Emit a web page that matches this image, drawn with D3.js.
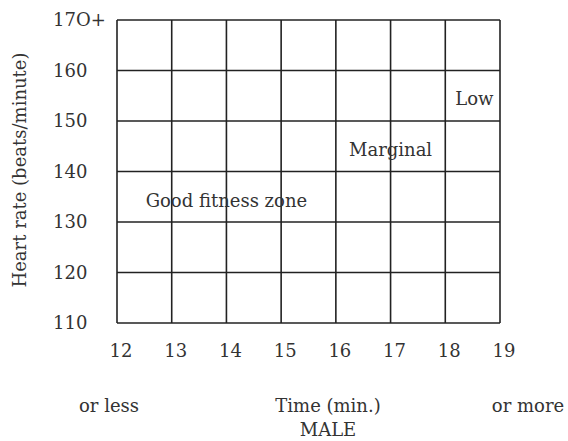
<!DOCTYPE html>
<html><head><meta charset="utf-8">
<script src="https://cdn.jsdelivr.net/npm/d3@7"></script>
<style>
body{margin:0;background:#fff;}
text{font-family:"DejaVu Serif",serif;fill:#333;}
</style></head>
<body><svg id="c" width="568" height="441"></svg>
<script>
const timeTicks = [12,13,14,15,16,17,18,19];
const timeLabels = ["12","13","14","15","16","17","18","19"];
const rateTicks = [110,120,130,140,150,160,170];
const rateLabels = ["110","120","130","140","150","160","17O+"];
const zoneNames = ["Good fitness zone","Marginal","Low"];
const zoneTime = [14.0, 17.0, 18.53];
const zoneRate = [134.2, 144.3, 154.3];

const svg = d3.select("#c");
const x = d3.scaleLinear().domain([12,19]).range([117,500]);
const y = d3.scaleLinear().domain([110,170]).range([323,20]);
const FS = 18;

const g = svg.append("g");
g.selectAll("line.v").data(timeTicks).join("line")
  .attr("x1",d=>x(d)).attr("x2",d=>x(d)).attr("y1",y(110)).attr("y2",y(170))
  .attr("stroke","#222").attr("stroke-width",1.6);
g.selectAll("line.h").data(rateTicks).join("line")
  .attr("y1",d=>y(d)).attr("y2",d=>y(d)).attr("x1",x(12)).attr("x2",x(19))
  .attr("stroke","#222").attr("stroke-width",1.6);

svg.selectAll("text.xt").data(timeTicks).join("text")
  .attr("x",d=>x(d)+4).attr("y",y(110)+34).attr("text-anchor","middle")
  .attr("font-size",FS).text((d,i)=>timeLabels[i]);
svg.selectAll("text.yt").data(rateTicks).join("text")
  .attr("x",53).attr("y",d=>y(d)+6).attr("text-anchor","start")
  .attr("font-size",FS).text((d,i)=>rateLabels[i]);

svg.selectAll("text.z").data(zoneNames).join("text")
  .attr("x",(d,i)=>x(zoneTime[i])).attr("y",(d,i)=>y(zoneRate[i])+6)
  .attr("text-anchor","middle").attr("font-size",FS).text(d=>d);

svg.append("text").attr("x",109).attr("y",412).attr("text-anchor","middle").attr("font-size",FS).text("or less");
svg.append("text").attr("x",328).attr("y",412).attr("text-anchor","middle").attr("font-size",FS).text("Time (min.)");
svg.append("text").attr("x",328).attr("y",436).attr("text-anchor","middle").attr("font-size",FS).text("MALE");
svg.append("text").attr("x",528).attr("y",412).attr("text-anchor","middle").attr("font-size",FS).text("or more");
svg.append("text").attr("transform","translate(26,170) rotate(-90)").attr("text-anchor","middle")
  .attr("font-size",FS).text("Heart rate (beats/minute)");
</script></body></html>
